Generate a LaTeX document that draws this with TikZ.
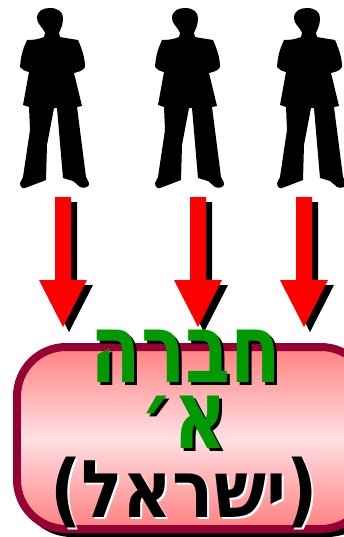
\documentclass[tikz,border=0pt]{standalone}
\usepackage{graphicx}
\usepackage{fontspec}
\TeXXeTstate=1
\newfontfamily\hebfont[Script=Hebrew]{DejaVu Sans Bold}
\definecolor{clb}{RGB}{150, 0, 51}
\definecolor{clr}{RGB}{255, 128, 128}
\definecolor{clm}{RGB}{255, 224, 228}
\definecolor{clv}{RGB}{0, 153, 0}
\pgfdeclareverticalshading{boxshade}{100bp}{color(0bp)=(clr); color(25bp)=(clr); color(50bp)=(clm); color(75bp)=(clr); color(100bp)=(clr)}
\tikzset{
    title/.style={font=\hebfont\fontsize{42}{42}\selectfont, inner sep=0pt},
}
\newcommand{\hebline}[3]{\scalebox{#1}[#2]{\beginR #3\endR}}
\newcommand{\personpath}{
    (50, 8)..controls(43, 8)and(37, 11)..(37, 18)..controls(37, 24)and(42, 26)..(45, 33)--(44, 37)
    ..controls(38, 39.5)and(33, 40)..(27, 40)..controls(24, 47)and(21, 53)..(20, 67)..controls(22, 70)and(25, 71)..(29, 72)
    --(23, 105)--(29, 107)--(30, 130)--(23, 177)--(20, 183)..controls(20, 187)and(23, 189)..(25, 188)
    --(33, 185)--(46, 180)--(47, 145)--(54, 108)--(57, 108)--(63, 178)--(73, 181)--(80, 187)
    ..controls(84, 189)and(90, 187)..(89, 183)--(86, 177)--(77, 107)--(82, 106)--(74, 73)
    ..controls(78, 72)and(83, 71)..(85, 67)..controls(85, 58)and(82, 49)..(78, 40)..controls(72, 39)and(65, 38)..(60, 37)
    --(59, 33)..controls(61, 28)and(63, 25)..(63, 18)..controls(63, 12)and(58, 8)..(50, 8)--cycle
}
\newcommand{\arrowpath}{
    (-8, 197)--(8, 197)--(8, 280)--(24, 280)--(0, 327)--(-24, 280)--(-8, 280)--cycle
}
\begin{document}
\begin{tikzpicture}[x=.02cm, y=-.02cm]
    \useasboundingbox(0, 0)rectangle(343, 537);
    % people
    \foreach \dx in {0, 135, 257}
        \fill[shift={(\dx, 0)}]\personpath;
    % arrows with their shadows
    \foreach \ax in {63, 198, 304}{
        \fill[shift={(\ax+6, 5)}]\arrowpath;
        \fill[red, shift={(\ax, 0)}]\arrowpath;
    }
    % box
    \fill[rounded corners=30](19, 347)rectangle(380, 537);
    \draw[draw=clb, line width=.16cm, rounded corners=28, shading=boxshade]
        (17, 347)rectangle(370, 529);
    % text
    \node[title, text=black] at (189, 359){\hebline{1}{1.3}{חברה}};
    \node[title, text=clv] (line1) at (186, 356){\hebline{1}{1.3}{חברה}};
    \node[title, text=black] at (187, 425){\hebline{1}{1.3}{א׳}};
    \node[title, text=clv] (line2) at (184, 422){\hebline{1}{1.3}{א׳}};
    \node[title, text=white] at (186, 495){\hebline{.93}{1.08}{(ישראל)}};
    \node[title, text=black] (line3) at (184, 493){\hebline{.93}{1.08}{(ישראל)}};
\end{tikzpicture}
\end{document}
